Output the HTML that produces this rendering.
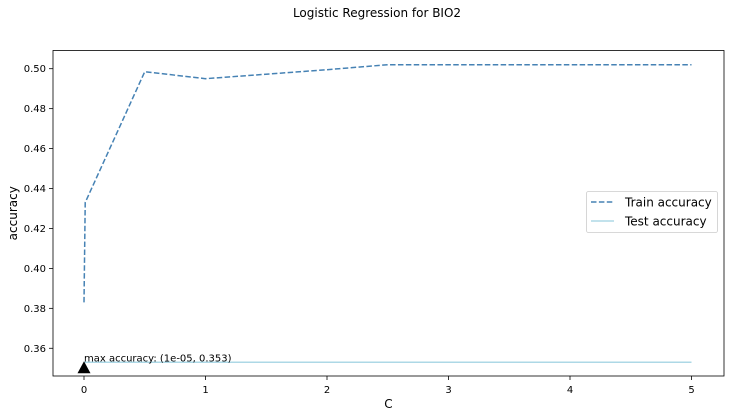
<!DOCTYPE html>
<html><head><meta charset="utf-8"><style>
body{margin:0;background:#fff;}
svg{display:block;font-family:"DejaVu Sans","Liberation Sans",sans-serif;}
</style></head><body>
<svg id="chart" width="730" height="417">
<text x="377" y="17" font-size="12" text-anchor="middle">Logistic Regression for BIO2</text>
<g id="plot"></g>
</svg>
<script>
const trainC = [0.00001, 0.01, 0.5, 1, 2, 2.5, 5];
const trainAcc = [0.383, 0.433, 0.4985, 0.495, 0.4995, 0.502, 0.502];
const testC = [0.00001, 0.5, 1, 2.5, 5];
const testAcc = [0.353, 0.353, 0.353, 0.353, 0.353];
const xTicks = [0, 1, 2, 3, 4, 5];
const yTicks = [0.36, 0.38, 0.40, 0.42, 0.44, 0.46, 0.48, 0.50];
const maxPoint = [0.00001, 0.35];
const maxLabel = "max accuracy: (1e-05, 0.353)";

const NS = "http://www.w3.org/2000/svg";
const L=53,R=724,T=50.5,B=376;
const xs = v => 84 + v*121.5;
const ys = v => 68.7 + (0.50 - v)/0.02*39.94;
const g = document.getElementById('plot');
function mk(tag, attrs, parent){const e=document.createElementNS(NS,tag);for(const k in attrs)e.setAttribute(k,attrs[k]);(parent||g).appendChild(e);return e;}

xTicks.forEach(t=>{
  const x=xs(t);
  const tk=mk('line',{x1:x,x2:x,y1:B,y2:B+4,stroke:'#000','stroke-width':0.8});
  
  
  const tx=mk('text',{x:x,y:B+17,'font-size':10,'text-anchor':'middle'});
  tx.textContent=t;
  
  
});
yTicks.forEach(t=>{
  const y=ys(t);
  const tk=mk('line',{x1:L-4,x2:L,y1:y,y2:y,stroke:'#000','stroke-width':0.8});
  
  
  const tx=mk('text',{x:L-7,y:y+3.5,'font-size':10,'text-anchor':'end'});
  tx.textContent=t.toFixed(2);
  
  
});

const tl=mk('polyline',{points:testC.map((c,i)=>xs(c)+','+ys(testAcc[i])).join(' '),fill:'none',stroke:'#add8e6','stroke-width':1.5});


const tr=mk('polyline',{points:trainC.map((c,i)=>xs(c)+','+ys(trainAcc[i])).join(' '),fill:'none',stroke:'#4682b4','stroke-width':1.5,'stroke-dasharray':'5.5,2.4'});



const mx=xs(maxPoint[0]), my=ys(maxPoint[1]);
const tri=mk('polygon',{points:`${mx},${my-7} ${mx-6.5},${my+5} ${mx+6.5},${my+5}`,fill:'#000'});


const ml=mk('text',{x:mx,y:ys(0.353)-1,'font-size':10});
ml.textContent=maxLabel;



const fr=mk('rect',{x:L,y:T,width:R-L,height:B-T,fill:'none',stroke:'#000','stroke-width':0.8});



const xt=mk('text',{x:(L+R)/2,y:408,'font-size':12,'text-anchor':'middle'});
xt.textContent='C';


const yt=mk('text',{x:0,y:0,'font-size':12,'text-anchor':'middle',transform:`translate(17,${(T+B)/2}) rotate(-90)`});
yt.textContent='accuracy';



const lg=mk('g',{});


mk('rect',{x:586.5,y:191.5,width:131,height:41,rx:2,fill:'#fff',stroke:'#ccc','stroke-width':0.8},lg);
mk('line',{x1:591,x2:614,y1:202,y2:202,stroke:'#4682b4','stroke-width':1.5,'stroke-dasharray':'5.5,2.4'},lg);
mk('line',{x1:591,x2:614,y1:221,y2:221,stroke:'#add8e6','stroke-width':1.5},lg);
const l1=mk('text',{x:625,y:206.5,'font-size':12},lg);l1.textContent='Train accuracy';


const l2=mk('text',{x:625,y:225.5,'font-size':12},lg);l2.textContent='Test accuracy';


</script>
</body></html>
